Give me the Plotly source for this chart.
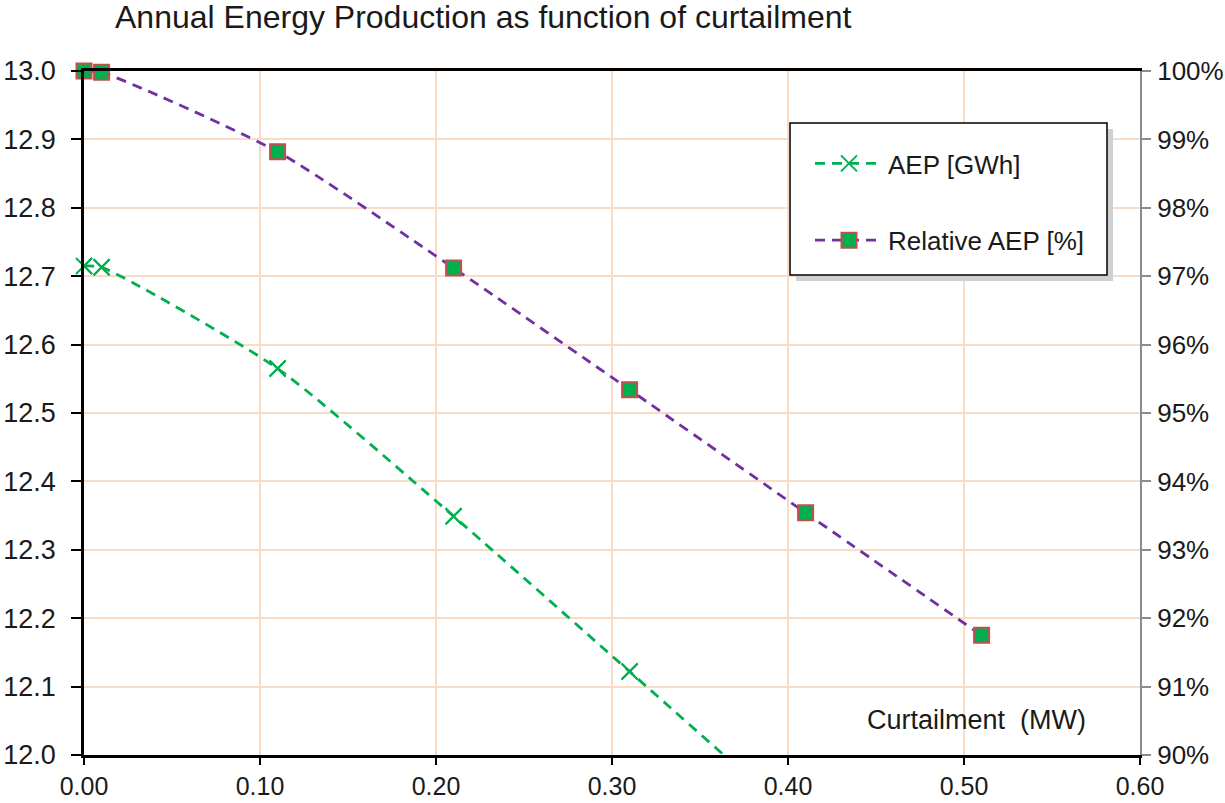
import plotly.graph_objects as go

# Curtailment levels and resulting production
curtailment_mw = [0.00, 0.01, 0.11, 0.21, 0.31, 0.41, 0.51]
aep_gwh = [12.715, 12.713, 12.565, 12.349, 12.122, 11.894, 11.666]
relative_aep_pct = [100.0, 99.98, 98.82, 97.12, 95.34, 93.54, 91.75]

x_range = [0.0, 0.6]
aep_range = [12.0, 13.0]
rel_range = [90, 100]
x_ticks = [0.0, 0.1, 0.2, 0.3, 0.4, 0.5, 0.6]

GREEN = "#00B050"
PURPLE = "#7030A0"
RED_EDGE = "#C0504D"
GRID = "#FADCC6"
TEXT = "#1a1a1a"
FONT = "Liberation Sans, Arial, sans-serif"

W, H = 1225, 803
ML, MR, MT, MB = 84, 85, 71, 48
PW, PH = W - ML - MR, H - MT - MB


def px_x(px):
    return (px - ML) / PW


def px_y(py):
    return (H - MB - py) / PH


DASH = "10px,7px"
SMOOTH = 0.6

fig = go.Figure()

# AEP (left axis): smoothed dashed line, clipped to the plot area
fig.add_trace(go.Scatter(
    x=curtailment_mw, y=aep_gwh, name="AEP [GWh]",
    mode="lines+markers",
    line=dict(color=GREEN, width=2.8, dash=DASH, shape="spline", smoothing=SMOOTH),
    marker=dict(symbol="x-thin", size=16, line=dict(color=GREEN, width=2)),
    legendgroup="aep", yaxis="y", cliponaxis=True,
))
# markers that fall inside the axis range, drawn unclipped at the edges
vis = [(x, y) for x, y in zip(curtailment_mw, aep_gwh) if y >= aep_range[0]]
fig.add_trace(go.Scatter(
    x=[v[0] for v in vis], y=[v[1] for v in vis], mode="markers",
    marker=dict(symbol="x-thin", size=16, line=dict(color=GREEN, width=2)),
    showlegend=False, legendgroup="aep", yaxis="y", cliponaxis=False, hoverinfo="skip",
))

# Relative AEP (right axis)
fig.add_trace(go.Scatter(
    x=curtailment_mw, y=relative_aep_pct, name="Relative AEP [%]",
    mode="lines+markers",
    line=dict(color=PURPLE, width=2.8, dash=DASH, shape="spline", smoothing=SMOOTH),
    marker=dict(symbol="square", size=15, color=GREEN, line=dict(color=RED_EDGE, width=2)),
    legendgroup="rel", yaxis="y2", cliponaxis=False,
))

# legend frame with drop shadow
lx0, lx1, ly0, ly1 = 790, 1107, 123, 275
fig.add_shape(type="rect", xref="paper", yref="paper",
              x0=px_x(lx0 + 6), x1=px_x(lx1 + 6), y0=px_y(ly1 + 6), y1=px_y(ly0 + 6),
              fillcolor="#D0D0D0", line=dict(width=0), layer="above")
fig.add_shape(type="rect", xref="paper", yref="paper",
              x0=px_x(lx0), x1=px_x(lx1), y0=px_y(ly1), y1=px_y(ly0),
              fillcolor="white", line=dict(color="black", width=1.5), layer="above")

fig.add_annotation(text="Curtailment\u00a0 (MW)", xref="paper", yref="paper",
                   x=px_x(865), y=px_y(720), xanchor="left", yanchor="middle",
                   showarrow=False, font=dict(size=27, color=TEXT, family=FONT))

fig.update_layout(
    width=W, height=H,
    margin=dict(l=ML, r=MR, t=MT, b=MB, autoexpand=False),
    paper_bgcolor="white", plot_bgcolor="white",
    font=dict(family=FONT, size=27, color=TEXT),
    title=dict(text="Annual Energy Production as function of curtailment",
               x=115 / W, xanchor="left", y=1 - 17 / H, yanchor="middle",
               font=dict(size=32, color=TEXT, family=FONT)),
    showlegend=True,
    legend=dict(x=px_x(810), y=px_y(140), xanchor="left", yanchor="top",
                bgcolor="rgba(0,0,0,0)", borderwidth=0, itemwidth=68,
                traceorder="grouped", tracegroupgap=40,
                font=dict(size=26, color=TEXT, family=FONT)),
    xaxis=dict(range=x_range, tickvals=x_ticks, tickformat=".2f", automargin=False,
               tickfont=dict(size=25),
               showgrid=True, gridcolor=GRID, gridwidth=1.5,
               showline=True, linecolor="black", linewidth=2.5, mirror=True,
               ticks="outside", ticklen=7, tickcolor="black", tickwidth=1.5,
               ticklabelstandoff=0, zeroline=False),
    yaxis=dict(range=aep_range, dtick=0.1, tickformat=".1f", automargin=False,
               showgrid=True, gridcolor=GRID, gridwidth=1.5,
               showline=True, linecolor="black", linewidth=2.5,
               ticks="outside", ticklen=10, tickcolor="black", tickwidth=1.5,
               ticklabelstandoff=10, zeroline=False),
    yaxis2=dict(range=rel_range, dtick=1, ticksuffix="%", overlaying="y", side="right",
                automargin=False, tickfont=dict(size=26),
                showgrid=False, showline=True, linecolor="#8C8C8C", linewidth=2,
                ticks="outside", ticklen=9, tickcolor="#8C8C8C", tickwidth=1.5,
                ticklabelstandoff=1, zeroline=False),
)

fig.write_html("out.html")
